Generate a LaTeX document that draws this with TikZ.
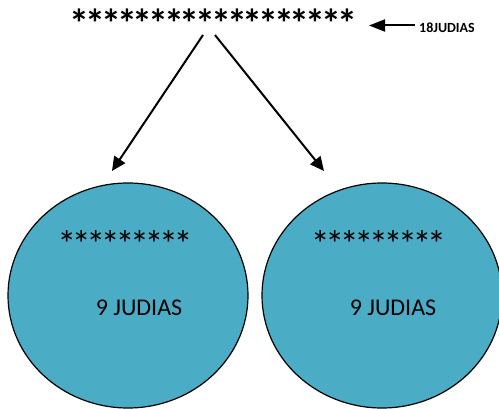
\documentclass[tikz,border=0pt]{standalone}
\usepackage{fontspec}
\setmainfont{Carlito}
\usetikzlibrary{arrows.meta,shapes.geometric}
\definecolor{beanblue}{RGB}{75,172,198}

\begin{document}
\begin{tikzpicture}[x=1pt,y=-1pt,
    bigtxt/.style={font=\fontsize{24}{28}\selectfont, inner sep=0pt},
    stars/.style={anchor=base, inner sep=0pt},
    bowl/.style={ellipse, draw=black, line width=1.2pt, fill=beanblue,
                 minimum width=240pt, minimum height=225pt, inner sep=0pt},
    flecha/.style={-{Triangle[length=14pt,width=13pt]}, line width=2pt}]
      \useasboundingbox (0,0) rectangle (499,409);
      % the two bowls
      \node[bowl] (lc) at (128,295.5) {};
      \node[bowl] (rc) at (382,295.5) {};
      % all the beans on top
      \node[stars, font=\fontsize{40}{44}\selectfont\bfseries\addfontfeature{LetterSpace=-10.5}]
           (top) at (213.5,38) {******************};
      \node[font=\fontsize{14}{16}\selectfont\bfseries, anchor=west, inner sep=0pt]
           (lab) at (419,28) {18JUDIAS};
      \coordinate (labtail) at (415,25.5);
      \coordinate (labhead) at (369,25.5);
      \draw[-{Triangle[length=16pt,width=12pt]}, line width=2pt] (labtail) -- (labhead);
      % split in two
      \coordinate (ls) at (203,35);
      \coordinate (rs) at (215,35);
      \coordinate (le) at (112,171);
      \coordinate (re) at (324,171);
      \draw[flecha] (ls) -- (le);
      \draw[flecha] (rs) -- (re);
      % what goes in each bowl
      \node[stars, font=\fontsize{38}{42}\selectfont\addfontfeature{LetterSpace=-11.5}]
           (lstar) at (125,258) {*********};
      \node[stars, font=\fontsize{38}{42}\selectfont\addfontfeature{LetterSpace=-11.5}]
           (rstar) at (378.5,258) {*********};
      \node[bigtxt] (ltxt) at (139,308) {9 JUDIAS};
      \node[bigtxt] (rtxt) at (393,308) {9 JUDIAS};
\end{tikzpicture}
\end{document}
